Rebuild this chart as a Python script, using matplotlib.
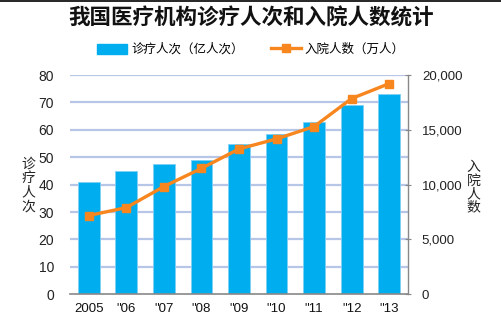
import matplotlib.pyplot as plt
from matplotlib.lines import Line2D
from matplotlib.ticker import FuncFormatter

plt.rcParams['font.family'] = ['Noto Sans CJK SC', 'DejaVu Sans']

# data
years = ['2005', '"06', '"07', '"08', '"09', '"10', '"11', '"12', '"13']
visits = [40.97, 44.93, 47.51, 49.01, 54.88, 58.38, 62.71, 68.88, 73.14]        # 亿人次
inpatients = [7184, 7906, 9828, 11483, 13256, 14174, 15298, 17857, 19215]     # 万人

blue = '#00adef'
orange = '#f7861e'
num_font = 'Liberation Sans'

fig = plt.figure(figsize=(5.02, 3.30), dpi=100)
ax = fig.add_axes([0.1394, 0.1082, 0.6733, 0.6645])
ax2 = ax.twinx()

x = range(len(years))
ax.bar(x, visits, width=0.58, color=blue, edgecolor='#7fd0f5', linewidth=0.6, zorder=2)
ax.set_ylim(0, 80)
ax.set_xlim(-0.5, len(years) - 0.5)
ax.set_yticks(range(0, 81, 10))
for v in range(10, 81, 10):
    ax.axhline(v, color='#b7c6e6', linewidth=1.6, zorder=1)

ax2.plot(x, inpatients, color=orange, linewidth=2.4, marker='s', markersize=5.5, zorder=3)
ax2.set_ylim(0, 20000)
ax2.set_yticks(range(0, 20001, 5000))
ax2.yaxis.set_major_formatter(FuncFormatter(lambda v, p: f'{int(v):,}'))

ax.set_xticks(list(x))
ax.set_xticklabels(years, fontfamily=num_font, fontsize=9.5)
for lbl in ax.get_yticklabels():
    lbl.set_fontfamily(num_font)
    lbl.set_fontsize(10)
for lbl in ax2.get_yticklabels():
    lbl.set_fontfamily(num_font)
    lbl.set_fontsize(9.5)

for s in ['top', 'left', 'right']:
    ax.spines[s].set_visible(False)
for s in ['top', 'left']:
    ax2.spines[s].set_visible(False)
ax.spines['bottom'].set_color('#888888')
ax.spines['bottom'].set_linewidth(1.2)
ax2.spines['bottom'].set_visible(False)
ax2.spines['right'].set_color('#888888')
ax2.spines['right'].set_linewidth(1.0)
ax.tick_params(axis='y', length=0, pad=11.5, colors='#222222')
ax.tick_params(axis='x', length=0, pad=6, colors='#111111')
ax2.tick_params(axis='y', length=4, direction='inout', color='#888888', pad=8, colors='#222222')

# vertical axis titles, one character per line
for i, ch in enumerate('诊疗人次'):
    fig.text(0.056, 0.503 - i * 0.043, ch, ha='center', va='center', fontsize=10,
             color='#222222')
for i, ch in enumerate('入院人数'):
    fig.text(0.943, 0.494 - i * 0.041, ch, ha='center', va='center', fontsize=10,
             color='#222222')

fig.text(0.5, 0.945, '我国医疗机构诊疗人次和入院人数统计', ha='center', va='center',
         fontsize=15.5, fontweight='bold', color='#111111')

handles = [plt.Rectangle((0, 0), 1, 1, color=blue),
           Line2D([0], [0], color=orange, linewidth=2.4, marker='s', markersize=5.5)]
fig.legend(handles, ['诊疗人次（亿人次）', '入院人数（万人）'], loc='center',
           bbox_to_anchor=(0.5, 0.85), ncol=2, frameon=False, fontsize=9,
           handlelength=2.4, handleheight=0.9, columnspacing=2.2, handletextpad=0.3)

# thin frame line on the top edge
fig.add_artist(Line2D([0, 1], [0.998, 0.998], color='black', linewidth=1.2,
                      transform=fig.transFigure))

fig.savefig('out.png', dpi=100)
